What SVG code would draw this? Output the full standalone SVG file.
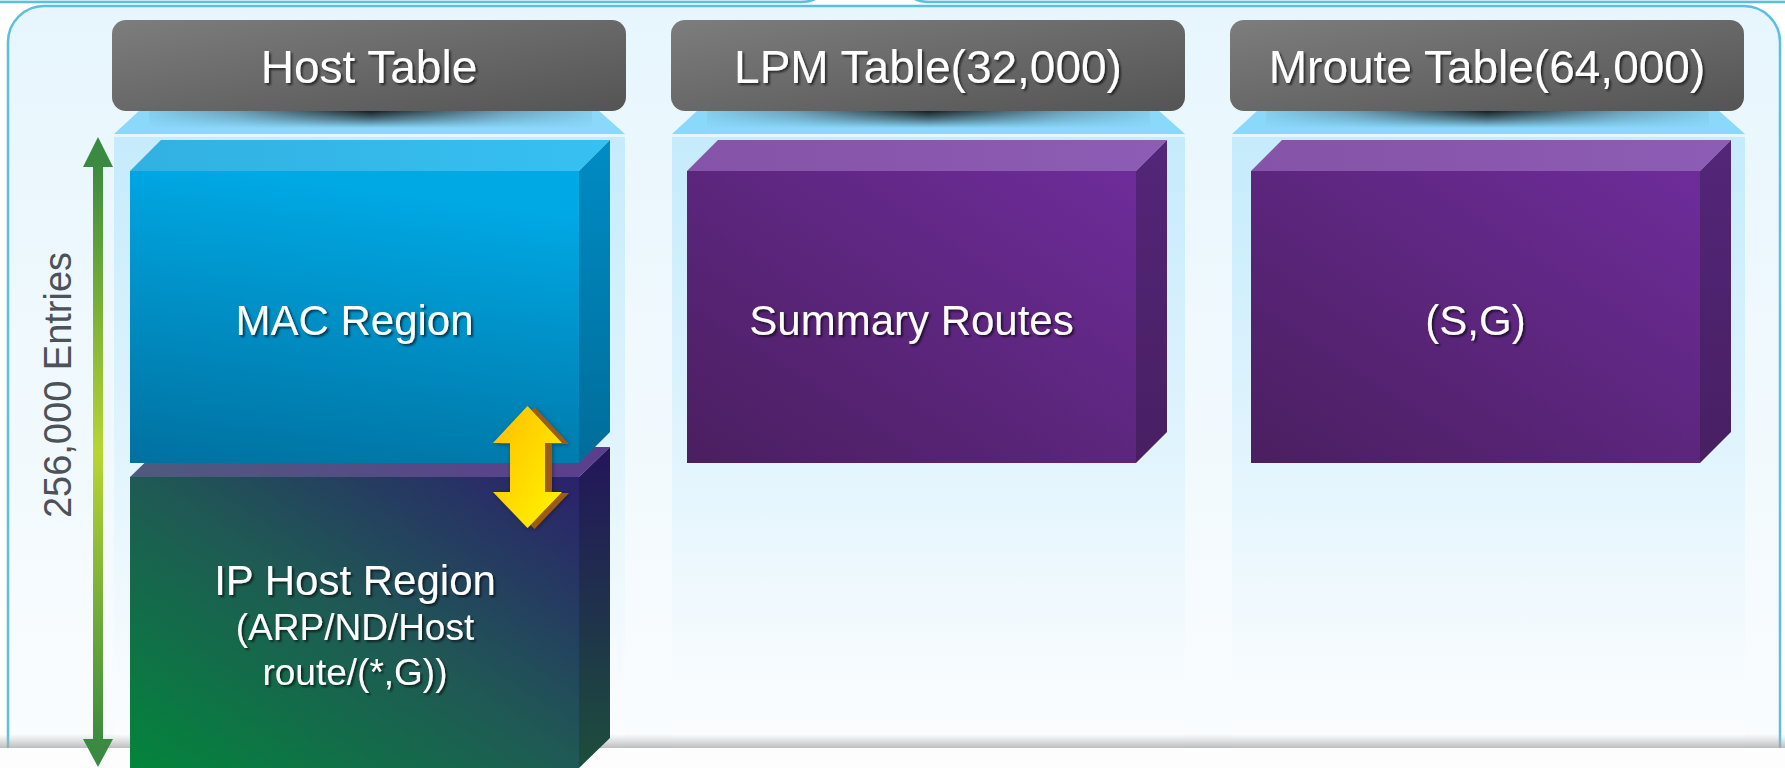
<svg xmlns="http://www.w3.org/2000/svg" width="1785" height="768" viewBox="0 0 1785 768">
  <style>
    .hdr-text { font-family: "Liberation Sans", Arial, sans-serif; font-size: 46px; fill: #ffffff; text-anchor: middle; filter: url(#txtShadow); }
    .cube-text { font-family: "Liberation Sans", Arial, sans-serif; font-size: 42px; fill: #ffffff; text-anchor: middle; filter: url(#txtShadow); }
    .cube-sub { font-size: 37px; }
    .dim-text { font-family: "Liberation Sans", Arial, sans-serif; font-size: 38px; fill: #4c5257; text-anchor: middle; }
    .frame { stroke: #5bc0e0; stroke-width: 2.5; }
    .funnel { fill: #8ad8fa; }
    .lip { fill: #e4f6fe; }
    .column { fill: url(#columnFill); }
    .header { fill: url(#headerFill); }
    .hshadow { fill: url(#shadowH); mask: url(#shadowFade); }
  </style>
  <defs>
    <linearGradient id="panelFill" x1="0" y1="0" x2="0" y2="1">
      <stop offset="0" stop-color="#e7f6fd"/>
      <stop offset="0.6" stop-color="#f3fafe"/>
      <stop offset="1" stop-color="#fcfdfe"/>
    </linearGradient>
    <linearGradient id="columnFill" x1="0" y1="0" x2="0" y2="1">
      <stop offset="0" stop-color="#c5ebfc"/>
      <stop offset="0.45" stop-color="#ddf3fd"/>
      <stop offset="0.8" stop-color="#f3fafe"/>
      <stop offset="1" stop-color="#fcfdfe"/>
    </linearGradient>
    <linearGradient id="headerFill" x1="0" y1="0" x2="1" y2="1">
      <stop offset="0" stop-color="#7d7d7d"/>
      <stop offset="1" stop-color="#545454"/>
    </linearGradient>
    <!-- soft shadow cast by each header onto the funnel below it -->
    <linearGradient id="shadowH" x1="0" y1="0" x2="1" y2="0">
      <stop offset="0" stop-color="#1a1a1a" stop-opacity="0.05"/>
      <stop offset="0.2" stop-color="#1a1a1a" stop-opacity="0.3"/>
      <stop offset="0.4" stop-color="#1a1a1a" stop-opacity="0.75"/>
      <stop offset="0.5" stop-color="#111111" stop-opacity="0.95"/>
      <stop offset="0.6" stop-color="#1a1a1a" stop-opacity="0.75"/>
      <stop offset="0.8" stop-color="#1a1a1a" stop-opacity="0.3"/>
      <stop offset="1" stop-color="#1a1a1a" stop-opacity="0.05"/>
    </linearGradient>
    <linearGradient id="shadowV" x1="0" y1="0" x2="0" y2="1">
      <stop offset="0" stop-color="#fff" stop-opacity="1"/>
      <stop offset="0.45" stop-color="#fff" stop-opacity="0.6"/>
      <stop offset="1" stop-color="#fff" stop-opacity="0"/>
    </linearGradient>
    <mask id="shadowFade" maskContentUnits="objectBoundingBox">
      <rect x="0" y="0" width="1" height="1" fill="url(#shadowV)"/>
    </mask>
    <linearGradient id="blueFront" x1="0.2" y1="0" x2="0" y2="1">
      <stop offset="0" stop-color="#00a8e4"/>
      <stop offset="1" stop-color="#0071a0"/>
    </linearGradient>
    <linearGradient id="blueTop" x1="0" y1="0" x2="1" y2="0">
      <stop offset="0" stop-color="#31b1e1"/>
      <stop offset="1" stop-color="#37c0f2"/>
    </linearGradient>
    <linearGradient id="blueSide" x1="0" y1="0" x2="0" y2="1">
      <stop offset="0" stop-color="#008cc4"/>
      <stop offset="1" stop-color="#006d9a"/>
    </linearGradient>
    <linearGradient id="purpleFront" x1="1" y1="0" x2="0" y2="1">
      <stop offset="0" stop-color="#6e2c9a"/>
      <stop offset="1" stop-color="#4a1f60"/>
    </linearGradient>
    <linearGradient id="purpleTop" x1="0" y1="0" x2="1" y2="0">
      <stop offset="0" stop-color="#8554a8"/>
      <stop offset="1" stop-color="#8d5cb4"/>
    </linearGradient>
    <linearGradient id="purpleSide" x1="0" y1="0" x2="0" y2="1">
      <stop offset="0" stop-color="#532679"/>
      <stop offset="1" stop-color="#481f62"/>
    </linearGradient>
    <linearGradient id="greenFront" x1="0" y1="1" x2="1" y2="0">
      <stop offset="0" stop-color="#03853b"/>
      <stop offset="0.5" stop-color="#1f5a54"/>
      <stop offset="1" stop-color="#2b216c"/>
    </linearGradient>
    <linearGradient id="greenTop" x1="0" y1="0" x2="1" y2="0">
      <stop offset="0" stop-color="#4e5b7c"/>
      <stop offset="1" stop-color="#5b3e8e"/>
    </linearGradient>
    <linearGradient id="greenSide" x1="0" y1="0" x2="0" y2="1">
      <stop offset="0" stop-color="#23155b"/>
      <stop offset="1" stop-color="#1c4e3c"/>
    </linearGradient>
    <linearGradient id="yellowFill" x1="0" y1="0" x2="1" y2="1">
      <stop offset="0" stop-color="#ffbc00"/>
      <stop offset="1" stop-color="#fff700"/>
    </linearGradient>
    <linearGradient id="dimShaft" gradientUnits="userSpaceOnUse" x1="0" y1="160" x2="0" y2="745">
      <stop offset="0" stop-color="#3a8a40"/>
      <stop offset="0.5" stop-color="#b9d532"/>
      <stop offset="1" stop-color="#3a8a40"/>
    </linearGradient>
    <linearGradient id="floorShade" x1="0" y1="0" x2="0" y2="1">
      <stop offset="0" stop-color="#b4b4b4" stop-opacity="0"/>
      <stop offset="1" stop-color="#a8a8a8" stop-opacity="0.75"/>
    </linearGradient>
    <filter id="txtShadow" x="-10%" y="-30%" width="120%" height="160%">
      <feDropShadow dx="2" dy="2" stdDeviation="1" flood-color="#000" flood-opacity="0.6"/>
    </filter>
    <filter id="arrowShadow" x="-30%" y="-20%" width="160%" height="140%">
      <feDropShadow dx="1" dy="1" stdDeviation="2" flood-color="#000" flood-opacity="0.35"/>
    </filter>
  </defs>

  <!-- neighbouring panels above, only their lower edges show -->
  <rect x="-40" y="-100" width="875" height="102" rx="34" fill="#e9f6fc" class="frame"/>
  <rect x="895" y="-100" width="940" height="102" rx="34" fill="#e9f6fc" class="frame"/>

  <!-- main panel -->
  <rect x="8" y="6" width="1772" height="820" rx="36" fill="url(#panelFill)" class="frame"/>

  <!-- table columns with their headers -->
  <g id="host-table">
    <rect class="column" x="114" y="134" width="511" height="620"/>
    <rect class="lip" x="114" y="134" width="511" height="3"/>
    <polygon class="funnel" points="140,110 598,110 625,134 114,134"/>
    <rect class="hshadow" x="149" y="111" width="443" height="17"/>
    <rect class="header" x="112" y="20" width="514" height="91" rx="14"/>
    <text class="hdr-text" x="369" y="83">Host Table</text>
  </g>
  <g id="lpm-table">
    <rect class="column" x="672" y="134" width="513" height="620"/>
    <rect class="lip" x="672" y="134" width="513" height="3"/>
    <polygon class="funnel" points="698,110 1158,110 1185,134 672,134"/>
    <rect class="hshadow" x="707" y="111" width="443" height="17"/>
    <rect class="header" x="671" y="20" width="514" height="91" rx="14"/>
    <text class="hdr-text" x="928" y="83">LPM Table(32,000)</text>
  </g>
  <g id="mroute-table">
    <rect class="column" x="1232" y="134" width="513" height="620"/>
    <rect class="lip" x="1232" y="134" width="513" height="3"/>
    <polygon class="funnel" points="1258,110 1718,110 1745,134 1232,134"/>
    <rect class="hshadow" x="1266" y="111" width="443" height="17"/>
    <rect class="header" x="1230" y="20" width="514" height="91" rx="14"/>
    <text class="hdr-text" x="1487" y="83">Mroute Table(64,000)</text>
  </g>

  <!-- floor line at the bottom of the panel -->
  <rect x="0" y="734" width="1785" height="14" fill="url(#floorShade)"/>
  <rect x="0" y="748" width="1785" height="20" fill="#fdfdfe"/>

  <!-- host table regions -->
  <g id="ip-host-region">
    <polygon points="130,477 161,447 610,447 579,477" fill="url(#greenTop)"/>
    <rect x="130" y="477" width="449" height="291" fill="url(#greenFront)"/>
    <polygon points="579,477 610,447 610,738 579,768" fill="url(#greenSide)"/>
    <text class="cube-text" x="355" y="595">IP Host Region</text>
    <text class="cube-text cube-sub" x="355" y="640">(ARP/ND/Host</text>
    <text class="cube-text cube-sub" x="355" y="685">route/(*,G))</text>
  </g>
  <g id="mac-region">
    <polygon points="130,171 161,140 610,140 579,171" fill="url(#blueTop)"/>
    <rect x="130" y="171" width="449" height="292" fill="url(#blueFront)"/>
    <polygon points="579,171 610,140 610,432 579,463" fill="url(#blueSide)"/>
    <text class="cube-text" x="354.5" y="335">MAC Region</text>
  </g>

  <!-- LPM table contents -->
  <g id="summary-routes">
    <polygon points="687,171 718,140 1167,140 1136,171" fill="url(#purpleTop)"/>
    <rect x="687" y="171" width="449" height="292" fill="url(#purpleFront)"/>
    <polygon points="1136,171 1167,140 1167,432 1136,463" fill="url(#purpleSide)"/>
    <text class="cube-text" x="911.5" y="335">Summary Routes</text>
  </g>

  <!-- Mroute table contents -->
  <g id="sg-routes">
    <polygon points="1251,171 1282,140 1731,140 1700,171" fill="url(#purpleTop)"/>
    <rect x="1251" y="171" width="449" height="292" fill="url(#purpleFront)"/>
    <polygon points="1700,171 1731,140 1731,432 1700,463" fill="url(#purpleSide)"/>
    <text class="cube-text" x="1475.5" y="335">(S,G)</text>
  </g>

  <!-- arrows: movable boundary and total size -->
  <g id="connectors">
    <g id="boundary-arrow" filter="url(#arrowShadow)">
      <polygon transform="translate(7,1)" fill="#9c5c16"
        points="527.5,406 562,443 545,443 545,492 562,492 527.5,528 493,492 510,492 510,443 493,443"/>
      <polygon fill="url(#yellowFill)"
        points="527.5,406 562,443 545,443 545,492 562,492 527.5,528 493,492 510,492 510,443 493,443"/>
    </g>
    <g id="size-arrow">
      <rect x="93" y="160" width="10" height="585" fill="url(#dimShaft)"/>
      <polygon points="98,137 113,167 83,167" fill="#3a8a41"/>
      <polygon points="98,767 113,739 83,739" fill="#3a8a41"/>
    </g>
  </g>

  <text class="dim-text" transform="translate(71,385) rotate(-90)">256,000 Entries</text>
</svg>
